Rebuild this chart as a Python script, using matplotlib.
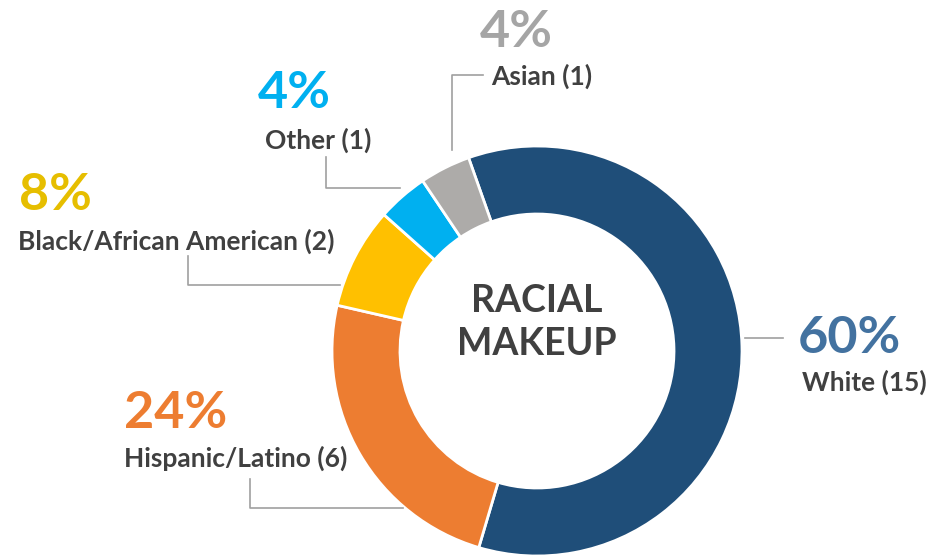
import matplotlib
matplotlib.use("Agg")
import matplotlib.pyplot as plt

# ---- data ----
categories = ["White", "Hispanic/Latino", "Black/African American", "Other", "Asian"]
counts = [15, 6, 2, 1, 1]
percent_labels = ["60%", "24%", "8%", "4%", "4%"]
slice_colors = ["#1F4E79", "#ED7D31", "#FFC000", "#00B0F0", "#ADABA9"]
pct_colors = ["#4372A0", "#ED7D31", "#E6BE00", "#00B0F0", "#A5A5A5"]
center_title = "RACIAL\nMAKEUP"

W, H = 930, 559
fig = plt.figure(figsize=(W / 100, H / 100), dpi=100)
ax = fig.add_axes([0, 0, 1, 1])

def Y(y):
    return H - y

cx, cy, R = 537, 351, 205
ax.pie(counts, colors=slice_colors, startangle=109.5, counterclock=False,
       center=(cx, Y(cy)), radius=R,
       wedgeprops=dict(width=68, edgecolor="white", linewidth=2))
ax.set_xlim(0, W)
ax.set_ylim(0, H)
ax.set_aspect("equal")
ax.axis("off")

font = "Lato"
dark = "#404040"
line_c = "#A0A0A0"

# layout: (pct x, pct baseline, label x, label baseline, leader polyline)
layout = {
    "White": (798, 353, 802, 391, [(745, 338), (783, 338)]),
    "Hispanic/Latino": (124, 428, 124, 467, [(403, 508), (250, 508), (250, 479)]),
    "Black/African American": (19, 210, 18, 250, [(340, 285), (188, 285), (188, 256)]),
    "Other": (258, 108, 265, 149, [(400, 188), (326, 188), (326, 157)]),
    "Asian": (480, 47, 491, 85, [(452, 150), (452, 75), (483, 75)]),
}

for cat, n, pct, pc in zip(categories, counts, percent_labels, pct_colors):
    px, pb, lx, lb, pts = layout[cat]
    ax.text(px, Y(pb), pct, color=pc, fontsize=37.5, fontweight="bold",
            family=font, ha="left", va="baseline")
    ax.text(lx, Y(lb), f"{cat} ({n})", color=dark, fontsize=19,
            fontweight="bold", family=font, ha="left", va="baseline")
    xs = [p[0] for p in pts]
    ys = [Y(p[1]) for p in pts]
    ax.plot(xs, ys, color=line_c, linewidth=1.2)

lines = center_title.split("\n")
ax.text(cx, Y(312), lines[0], color=dark, fontsize=27, fontweight="bold",
        family=font, ha="center", va="baseline")
ax.text(cx, Y(355), lines[1], color=dark, fontsize=27, fontweight="bold",
        family=font, ha="center", va="baseline")

fig.savefig("out.png", dpi=100)
